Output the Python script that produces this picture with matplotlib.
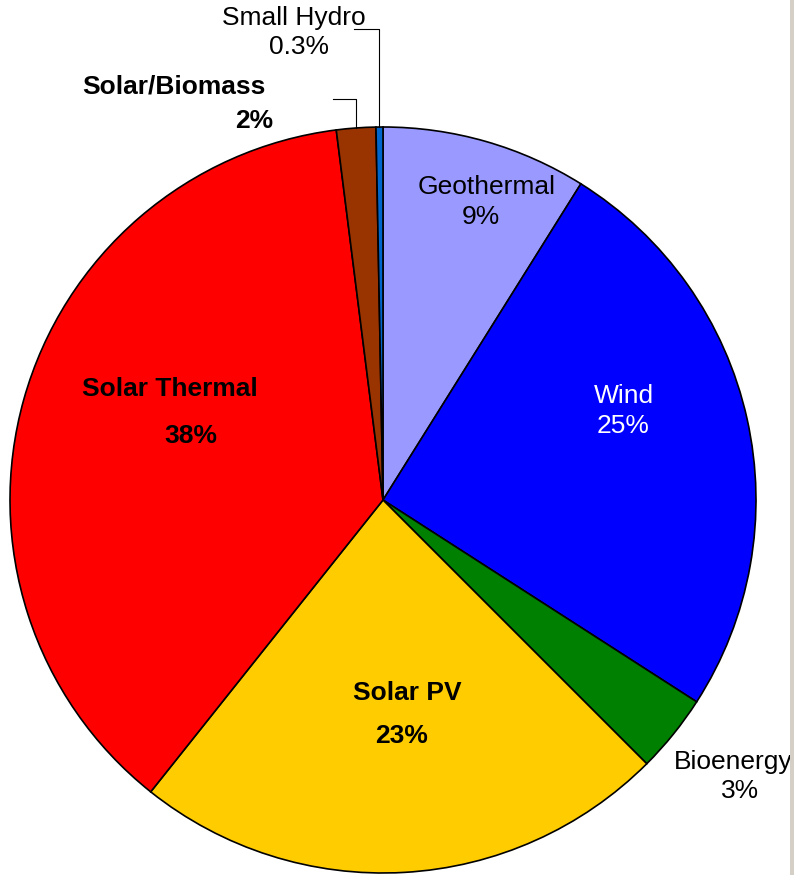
import matplotlib
matplotlib.use("Agg")
import matplotlib.pyplot as plt
import numpy as np

# Data
categories = ["Geothermal", "Wind", "Bioenergy", "Solar PV", "Solar Thermal", "Solar/Biomass", "Small Hydro"]
shares = [8.9, 25.2, 3.4, 23.2, 37.3, 1.7, 0.3]
pct_labels = ["9%", "25%", "3%", "23%", "38%", "2%", "0.3%"]

colors = ["#9999ff", "#0000ff", "#008000", "#ffcc00", "#ff0000", "#993300", "#0066cc"]
text_colors = ["black", "white", "black", "black", "black", "black", "black"]
bold = [False, False, False, True, True, True, False]
# label centers (pixel coords, y downward): name line, pct line
name_pos = [(487, 187), (624, 396), (733, 762), (407, 693), (170, 389), (174, 87), (294, 18)]
pct_pos = [(481, 217), (623, 426), (740, 791), (402, 736), (191, 436), (254, 121), (299, 47)]

W, H = 794, 875
fig = plt.figure(figsize=(W / 100, H / 100), dpi=100)
ax = fig.add_axes([0, 0, 1, 1])
ax.set_xlim(0, W)
ax.set_ylim(H, 0)
ax.set_aspect("equal")
ax.axis("off")

cx, cy, R = 383, 500, 373
wedges, _ = ax.pie(shares, colors=colors, startangle=-90, counterclock=True,
                   center=(cx, cy), radius=R, frame=True,
                   wedgeprops=dict(edgecolor="black", linewidth=1.2))
ax.set_xlim(0, W)
ax.set_ylim(H, 0)
ax.axis("off")

fs = 19
for i, cat in enumerate(categories):
    fw = "bold" if bold[i] else "normal"
    ax.text(*name_pos[i], cat, ha="center", va="center", fontsize=fs,
            family=["Liberation Sans", "DejaVu Sans"], color=text_colors[i], fontweight=fw)
    ax.text(*pct_pos[i], pct_labels[i], ha="center", va="center", fontsize=fs,
            family=["Liberation Sans", "DejaVu Sans"], color=text_colors[i], fontweight=fw)

# leader lines for the two small slices
elbows = {5: (99, 333), 6: (29, 354)}
for i, (ey, ex) in elbows.items():
    w = wedges[i]
    mid = np.deg2rad((w.theta1 + w.theta2) / 2)
    sx = cx + R * np.cos(mid)
    sy = cy + R * np.sin(mid)
    ax.plot([sx, sx, ex], [sy, ey, ey], color="black", linewidth=0.8)

# grey border strip at right edge
fig.patches.append(plt.Rectangle((790 / W, 0), 4 / W, 1, transform=fig.transFigure,
                                 facecolor="#d4d0c8", edgecolor="none"))

fig.savefig("out.png", dpi=100)
